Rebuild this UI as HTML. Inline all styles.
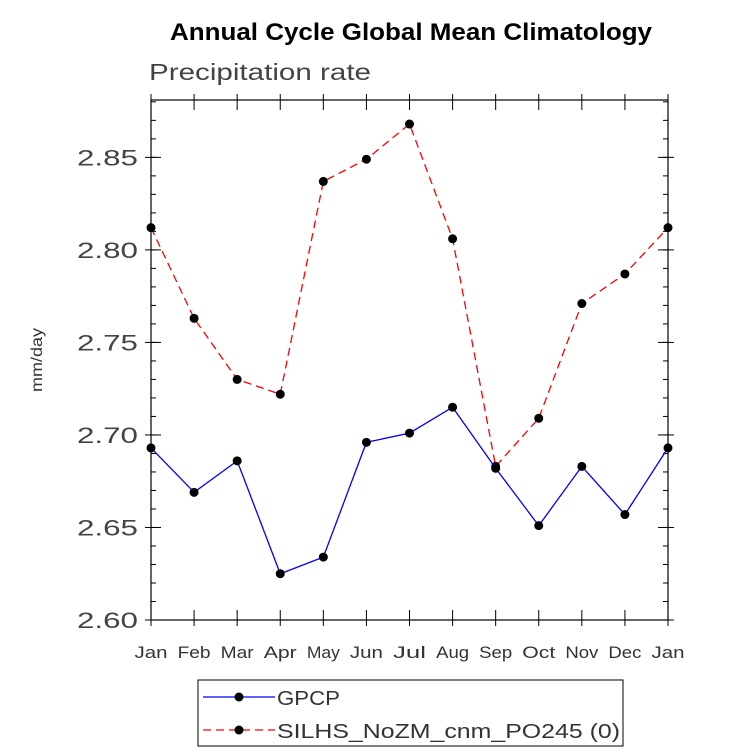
<!DOCTYPE html>
<html><head><meta charset="utf-8"><style>
body{margin:0;background:#fff;}
svg{display:block;font-family:"Liberation Sans",sans-serif;}
</style></head><body>
<svg id="chart" width="733" height="754">
<text x="170" y="40" font-size="24" font-weight="bold" textLength="482" lengthAdjust="spacingAndGlyphs">Annual Cycle Global Mean Climatology</text>
<text x="149" y="80" font-size="23" fill="#444" textLength="222" lengthAdjust="spacingAndGlyphs">Precipitation rate</text>
<text transform="translate(42,360) rotate(-90)" text-anchor="middle" font-size="16" fill="#333" textLength="64" lengthAdjust="spacingAndGlyphs">mm/day</text>
<rect x="151" y="100" width="517" height="520" fill="none" stroke="#000" stroke-width="1.2"/>
<g id="axes"></g>
<g id="series"></g>
<rect x="198" y="680" width="425" height="66" fill="none" stroke="#000"/>
<g>
<line x1="203" y1="697" x2="275" y2="697" stroke="#00f" stroke-width="1.3"/>
<circle cx="239" cy="697" r="4.5" fill="#000"/>
<text x="277" y="705" font-size="20" fill="#333" textLength="63" lengthAdjust="spacingAndGlyphs">GPCP</text>
</g>
<g>
<line x1="203" y1="730" x2="275" y2="730" stroke="#f00" stroke-width="1.3" stroke-dasharray="8,5"/>
<circle cx="239" cy="730" r="4.5" fill="#000"/>
<text x="277" y="738" font-size="20" fill="#333" textLength="343" lengthAdjust="spacingAndGlyphs">SILHS_NoZM_cnm_PO245 (0)</text>
</g>
</svg>
<script>
const months=["Jan","Feb","Mar","Apr","May","Jun","Jul","Aug","Sep","Oct","Nov","Dec","Jan"];
const gpcp=[2.693,2.669,2.686,2.625,2.634,2.696,2.701,2.715,2.682,2.651,2.683,2.657,2.693];
const silhs=[2.812,2.763,2.730,2.722,2.837,2.849,2.868,2.806,2.683,2.709,2.771,2.787,2.812];
const yTicks=[2.60,2.65,2.70,2.75,2.80,2.85];
const yMin=2.60,yMax=2.881;
const X0=151,X1=668,Y0=620,Y1=100;
const ns="http://www.w3.org/2000/svg";
function xs(i){return X0+(X1-X0)*i/(months.length-1);}
function ys(v){return Y0-(v-yMin)/(yMax-yMin)*(Y0-Y1);}
const ax=document.getElementById('axes'),se=document.getElementById('series');
function mk(tag,attrs,parent){const e=document.createElementNS(ns,tag);for(const k in attrs)e.setAttribute(k,attrs[k]);parent.appendChild(e);return e;}
yTicks.forEach(v=>{
 const y=ys(v);
 const g=mk('g',{},ax);
 
 
 mk('line',{x1:X0-6,y1:y,x2:X0+10,y2:y,stroke:'#000'},g);
 mk('line',{x1:X1+6,y1:y,x2:X1-10,y2:y,stroke:'#000'},g);
 const t=mk('text',{x:77,y:y+8,'font-size':22,fill:'#444',textLength:61,lengthAdjust:'spacingAndGlyphs'},g);
 t.textContent=v.toFixed(2);
});
for(let v=2.60;v<=yMax+1e-9;v+=0.01){
 const y=ys(v);
 mk('line',{x1:X0,y1:y,x2:X0+5,y2:y,stroke:'#000'},ax);
 mk('line',{x1:X1,y1:y,x2:X1-5,y2:y,stroke:'#000'},ax);
}
months.forEach((m,i)=>{
 const x=xs(i);
 const g=mk('g',{},ax);
 
 
 mk('line',{x1:x,y1:Y0+6,x2:x,y2:Y0-10,stroke:'#000'},g);
 mk('line',{x1:x,y1:Y1-6,x2:x,y2:Y1+10,stroke:'#000'},g);
 const t=mk('text',{x:x,y:Y0+38,'text-anchor':'middle','font-size':17,fill:'#333',textLength:33,lengthAdjust:'spacingAndGlyphs'},g);
 t.textContent=m;
});
function draw(vals,color,dash,name){
 const p=mk('polyline',{points:vals.map((v,i)=>xs(i)+','+ys(v)).join(' '),fill:'none',stroke:color,'stroke-width':1.3},se);
 if(dash)p.setAttribute('stroke-dasharray',dash);
 
 
 vals.forEach((v,i)=>{
  const c=mk('circle',{cx:xs(i),cy:ys(v),r:4.5,fill:'#000'},se);
  
  
 });
}
draw(silhs,'#f00','8,5','silhs');
draw(gpcp,'#00f',null,'gpcp');
</script>
</body></html>
